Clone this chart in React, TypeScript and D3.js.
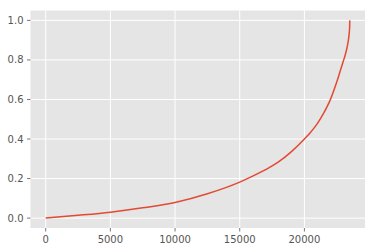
import React from "react";
import * as d3 from "d3";

const xValues = [0, 2500, 5000, 7500, 10000, 12500, 15000, 16000, 17000, 18000, 19000, 20000, 20500, 21000, 21500, 22000, 22500, 22800, 23000, 23150, 23250, 23350, 23420, 23460, 23485, 23500, 23510];
const yValues = [0, 0.014, 0.03, 0.052, 0.079, 0.123, 0.182, 0.212, 0.245, 0.284, 0.336, 0.4, 0.436, 0.478, 0.532, 0.598, 0.688, 0.75, 0.792, 0.824, 0.849, 0.88, 0.909, 0.932, 0.952, 0.968, 1.0];
const xTicks = [0, 5000, 10000, 15000, 20000];
const yTicks = [0.0, 0.2, 0.4, 0.6, 0.8, 1.0];

const W = 375;
const H = 252;
const left = 30.5;
const right = 365;
const top = 10.5;
const bottom = 228;

export default function App() {
  const xMax = d3.max(xValues) as number;
  const x = d3.scaleLinear().domain([-0.05 * xMax, 1.05 * xMax]).range([left, right]);
  const y = d3.scaleLinear().domain([-0.05, 1.05]).range([bottom, top]);
  const data = xValues.map((v, i) => [v, yValues[i]] as [number, number]);
  const line = d3
    .line<[number, number]>()
    .x((d) => x(d[0]))
    .y((d) => y(d[1]))
    .curve(d3.curveMonotoneX);
  const font = "'DejaVu Sans', sans-serif";
  return (
    <svg width={W} height={H} style={{ position: "absolute", left: 0, top: 0, background: "#fff" }}>
      <rect x={left} y={top} width={right - left} height={bottom - top} fill="#E5E5E5" />
      {xTicks.map((t) => (
        <line key={"gx" + t} x1={x(t)} x2={x(t)} y1={top} y2={bottom} stroke="#fff" strokeWidth={1} />
      ))}
      {yTicks.map((t) => (
        <line key={"gy" + t} x1={left} x2={right} y1={y(t)} y2={y(t)} stroke="#fff" strokeWidth={1} />
      ))}
      <path d={line(data) || ""} fill="none" stroke="#E24A33" strokeWidth={1.5} />
      {xTicks.map((t) => (
        <g key={"tx" + t}>
          <line x1={x(t)} x2={x(t)} y1={bottom} y2={bottom + 3.5} stroke="#555" strokeWidth={0.8} />
          <text x={x(t)} y={bottom + 14.5} textAnchor="middle" fontFamily={font} fontSize={10} fill="#555">
            {String(t)}
          </text>
        </g>
      ))}
      {yTicks.map((t) => (
        <g key={"ty" + t}>
          <line x1={left - 3.5} x2={left} y1={y(t)} y2={y(t)} stroke="#555" strokeWidth={0.8} />
          <text x={left - 7} y={y(t)} dy="0.35em" textAnchor="end" fontFamily={font} fontSize={10} fill="#555">
            {t.toFixed(1)}
          </text>
        </g>
      ))}
    </svg>
  );
}
